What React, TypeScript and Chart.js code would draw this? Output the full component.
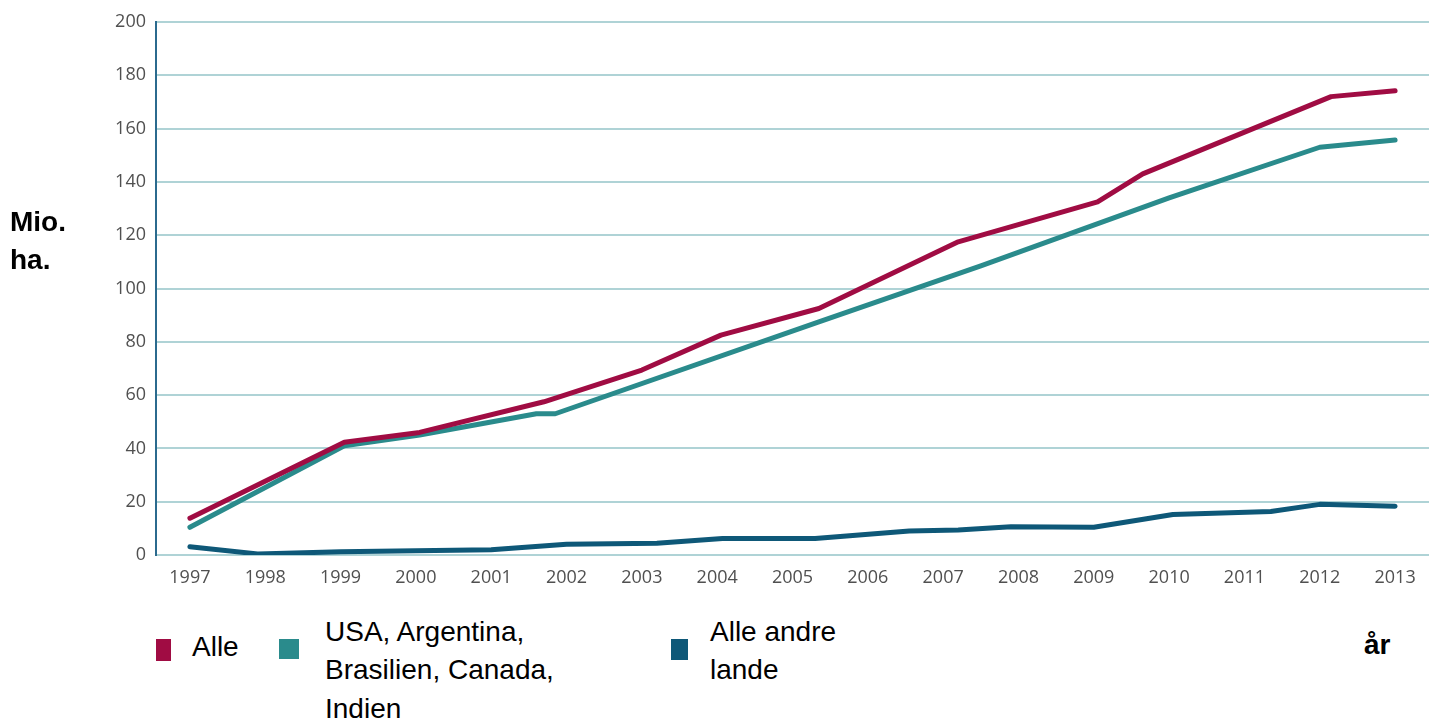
import React, { useEffect, useRef } from "react";
import { Chart, registerables } from "chart.js";

Chart.register(...registerables);

// Year ticks on the horizontal axis
const years = [1997, 1998, 1999, 2000, 2001, 2002, 2003, 2004, 2005, 2006, 2007, 2008, 2009, 2010, 2011, 2012, 2013];

// "Alle" – total area (mio. ha)
const alleYear = [1997.0, 1999.05, 2000.05, 2001.7, 2003.0, 2004.05, 2005.35, 2007.2, 2009.05, 2009.65, 2012.15, 2013.0];
const alleValue = [13.8, 42.3, 46.0, 57.5, 69.4, 82.5, 92.5, 117.5, 132.5, 143.0, 172.0, 174.2];

// USA, Argentina, Brasilien, Canada, Indien
const topFiveYear = [1997.0, 1999.05, 2000.05, 2001.6, 2001.85, 2005.35, 2007.5, 2010.0, 2012.0, 2013.0];
const topFiveValue = [10.4, 41.0, 45.0, 53.0, 53.0, 87.5, 108.5, 134.0, 153.0, 155.7];

// Alle andre lande
const otherYear = [1997.0, 1997.9, 1999.0, 2000.0, 2001.0, 2002.0, 2003.2, 2004.07, 2005.3, 2006.55, 2007.2, 2007.9, 2009.0, 2010.05, 2011.35, 2012.0, 2013.0];
const otherValue = [3.1, 0.4, 1.2, 1.6, 2.0, 4.0, 4.4, 6.2, 6.2, 9.0, 9.4, 10.6, 10.4, 15.2, 16.3, 19.0, 18.3];

const yTicks = [0, 20, 40, 60, 80, 100, 120, 140, 160, 180, 200];

const RED = "#a00c43";
const TEAL = "#2a8b8c";
const NAVY = "#0e5878";

const toPoints = (xs: number[], ys: number[]) => xs.map((x, i) => ({ x, y: ys[i] }));

const textFont = '"Liberation Sans", Arial, sans-serif';

export default function App() {
  const canvasRef = useRef<HTMLCanvasElement | null>(null);

  useEffect(() => {
    const canvas = canvasRef.current;
    if (!canvas) return;
    const lineStyle = {
      borderWidth: 5,
      pointRadius: 0,
      pointHoverRadius: 0,
      tension: 0,
      borderCapStyle: "round" as const,
      borderJoinStyle: "round" as const,
      fill: false,
    };
    const chart = new Chart(canvas, {
      type: "line",
      data: {
        datasets: [
          { label: "Alle", data: toPoints(alleYear, alleValue), borderColor: RED, backgroundColor: RED, ...lineStyle },
          {
            label: "USA, Argentina, Brasilien, Canada, Indien",
            data: toPoints(topFiveYear, topFiveValue),
            borderColor: TEAL,
            backgroundColor: TEAL,
            ...lineStyle,
          },
          { label: "Alle andre lande", data: toPoints(otherYear, otherValue), borderColor: NAVY, backgroundColor: NAVY, ...lineStyle },
        ],
      },
      options: {
        animation: false,
        responsive: false,
        devicePixelRatio: 1,
        layout: { padding: { top: 22, left: 0, right: 0, bottom: 0 } },
        plugins: { legend: { display: false }, tooltip: { enabled: false } },
        events: [],
        scales: {
          x: {
            type: "linear",
            min: 1996.55,
            max: 2013.45,
            afterBuildTicks: (scale: any) => {
              scale.ticks = years.map((v) => ({ value: v }));
            },
            afterFit: (scale: any) => {
              scale.height = 45;
            },
            grid: { display: false, drawTicks: false },
            border: { display: false },
            ticks: {
              padding: 12,
              autoSkip: false,
              maxRotation: 0,
              color: "#505050",
              font: { family: '"Open Sans", sans-serif', size: 18 },
              callback: (v: any) => String(v),
            },
          },
          y: {
            type: "linear",
            min: 0,
            max: 200,
            afterBuildTicks: (scale: any) => {
              scale.ticks = yTicks.map((v) => ({ value: v }));
            },
            afterFit: (scale: any) => {
              scale.width = 156;
            },
            grid: { color: "#afd3d6", lineWidth: 2, drawTicks: false },
            border: { display: true, color: "#2b6a8e", width: 2 },
            ticks: {
              padding: 10,
              color: "#505050",
              font: { family: '"Open Sans", sans-serif', size: 18 },
            },
          },
        },
      },
    });
    return () => chart.destroy();
  }, []);

  const txt: React.CSSProperties = {
    position: "absolute",
    fontFamily: textFont,
    fontSize: 28,
    lineHeight: "38.4px",
    color: "#000",
    whiteSpace: "nowrap",
    margin: 0,
  };
  const sq = (left: number, top: number, w: number, h: number, c: string): React.CSSProperties => ({
    position: "absolute",
    left,
    top,
    width: w,
    height: h,
    background: c,
  });

  return (
    <div style={{ position: "absolute", left: 0, top: 0, width: 1429, height: 720, background: "#fff", overflow: "hidden" }}>
      <canvas ref={canvasRef} width={1429} height={600} style={{ position: "absolute", left: 0, top: 0 }} />
      <div style={{ ...txt, left: 10, top: 203, fontWeight: "bold" }}>
        Mio.
        <br />
        ha.
      </div>
      <div style={{ ...txt, left: 1364, top: 626, fontWeight: "bold" }}>år</div>

      <div style={sq(156, 639, 15, 22, RED)} />
      <div style={{ ...txt, left: 192, top: 628 }}>Alle</div>

      <div style={sq(279, 639, 20, 20, TEAL)} />
      <div style={{ ...txt, left: 325, top: 613 }}>
        USA, Argentina,
        <br />
        Brasilien, Canada,
        <br />
        Indien
      </div>

      <div style={sq(671, 639, 17, 21, NAVY)} />
      <div style={{ ...txt, left: 710, top: 613 }}>
        Alle andre
        <br />
        lande
      </div>
    </div>
  );
}
